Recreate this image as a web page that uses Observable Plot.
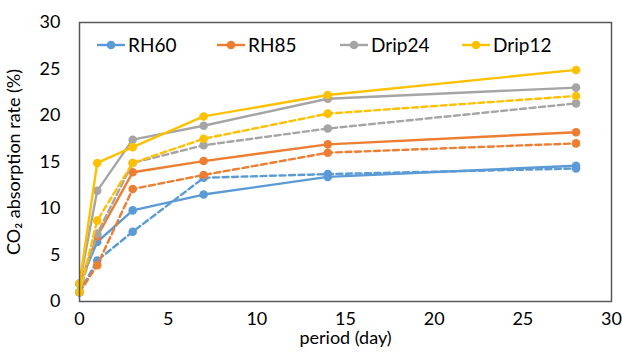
<!DOCTYPE html>
<html>
<head>
<meta charset="utf-8">
<script src="https://cdn.jsdelivr.net/npm/d3@7"></script>
<script src="https://cdn.jsdelivr.net/npm/@observablehq/plot@0.6"></script>
<style>
  html, body { margin: 0; padding: 0; background: #fff; }
  #wrap { position: relative; width: 622px; height: 352px; font-family: Lato, "Open Sans", sans-serif; }
  #legend { position: absolute; left: 0; top: 0; width: 622px; height: 60px; pointer-events: none; }
  .item { position: absolute; top: 33px; display: flex; align-items: center; font-size: 19px; color: #000; line-height: 24px; }
  .item svg { margin-right: 3px; }
</style>
</head>
<body>
<div id="wrap"><div id="chart"></div><div id="legend"></div></div>
<script>
const days = [0, 1, 3, 7, 14, 28];
const seriesNames = ["RH60", "RH85", "Drip24", "Drip12"];
const seriesColors = ["#5B9BD5", "#ED7D31", "#A5A5A5", "#FFC000"];
// solid lines
const RH60   = [1.9, 6.4, 9.8, 11.5, 13.4, 14.6];
const RH85   = [1.9, 7.0, 13.9, 15.1, 16.9, 18.2];
const Drip24 = [1.9, 11.9, 17.4, 18.9, 21.8, 23.0];
const Drip12 = [1.9, 14.9, 16.6, 19.9, 22.2, 24.9];
// dashed lines
const RH60d   = [1.0, 4.4, 7.5, 13.3, 13.7, 14.3];
const RH85d   = [1.0, 3.9, 12.1, 13.6, 16.0, 17.0];
const Drip24d = [1.0, 7.3, 14.9, 16.8, 18.6, 21.3];
const Drip12d = [1.0, 8.7, 14.9, 17.5, 20.2, 22.1];
const xTicks = [0, 5, 10, 15, 20, 25, 30];
const yTicks = [0, 5, 10, 15, 20, 25, 30];
const xTitle = "period (day)";
const yTitle = "CO₂ absorption rate (%)";

const solid = [RH60, RH85, Drip24, Drip12];
const dashed = [RH60d, RH85d, Drip24d, Drip12d];

const rows = [];
seriesNames.forEach((name, i) => {
  days.forEach((d, j) => rows.push({series: name, style: "solid", day: d, value: solid[i][j]}));
});
seriesNames.forEach((name, i) => {
  days.forEach((d, j) => rows.push({series: name, style: "dashed", day: d, value: dashed[i][j]}));
});

const colorOf = Object.fromEntries(seriesNames.map((n, i) => [n, seriesColors[i]]));
const marks = [];
for (const style of ["solid", "dashed"]) {
  for (const name of seriesNames) {
    const data = rows.filter(r => r.series === name && r.style === style);
    marks.push(Plot.line(data, {x: "day", y: "value", stroke: colorOf[name], strokeWidth: 2.4,
      strokeDasharray: style === "dashed" ? "6,3.5" : null}));
    marks.push(Plot.dot(data, {x: "day", y: "value", fill: colorOf[name], r: 4.3, stroke: "none"}));
  }
}

const chart = Plot.plot({
  width: 622,
  height: 352,
  marginLeft: 79,
  marginRight: 11,
  marginTop: 22,
  marginBottom: 51,
  style: {fontFamily: "Lato, 'Open Sans', sans-serif", fontSize: "18px", color: "#000", background: "#fff"},
  x: {domain: [0, 30], ticks: xTicks, tickSize: 0, tickPadding: 11, label: null},
  y: {domain: [0, 30], ticks: yTicks, tickSize: 0, tickPadding: 19, label: yTitle, labelAnchor: "center", labelOffset: 72, labelArrow: "none"},
  marks: [
    ...marks,
    Plot.frame({stroke: "#595959", strokeWidth: 1.5}),
    Plot.text([xTitle], {frameAnchor: "bottom", dy: 42, fontSize: 18, fill: "#000"})
  ]
});
document.getElementById("chart").appendChild(chart);

// legend (inside plot area, as in the reference)
const legendLeft = [97, 217, 340, 462];
const legend = document.getElementById("legend");
seriesNames.forEach((name, i) => {
  const div = document.createElement("div");
  div.className = "item";
  div.style.left = legendLeft[i] + "px";
  div.innerHTML = `<svg width="28" height="12"><line x1="0" x2="28" y1="6" y2="6" stroke="${seriesColors[i]}" stroke-width="2.4"/><circle cx="14" cy="6" r="4.3" fill="${seriesColors[i]}"/></svg><span>${name}</span>`;
  legend.appendChild(div);
});
</script>
</body>
</html>
